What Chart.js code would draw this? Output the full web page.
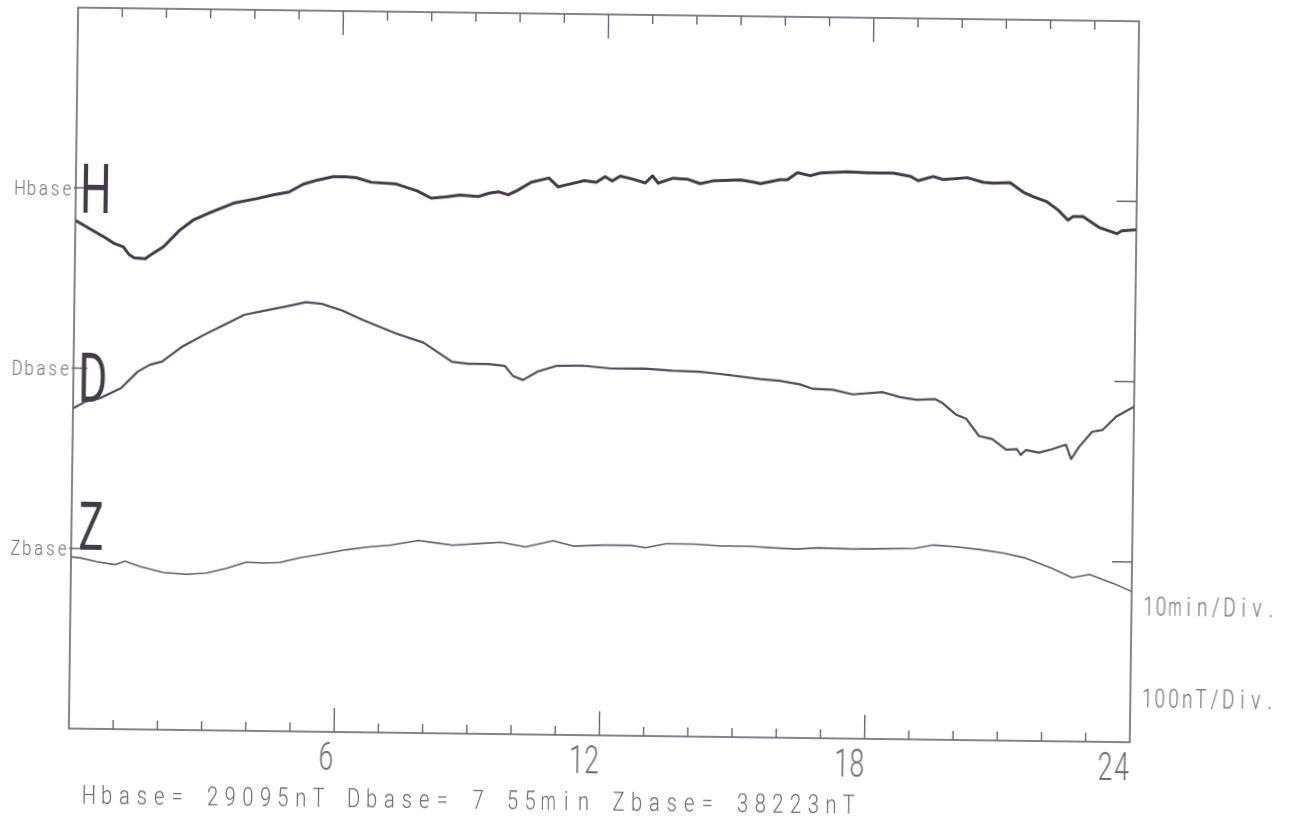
<!DOCTYPE html>
<html>
<head>
<meta charset="utf-8">
<title>Magnetogram H D Z</title>
<script src="https://cdn.jsdelivr.net/npm/chart.js@4.4.1/dist/chart.umd.min.js"></script>
<style>
  html, body { margin: 0; padding: 0; background: #fff; overflow: hidden; }
  /* the recording sheet sits slightly skewed */
  #magChart { display: block; transform: rotate(0.74deg); }
</style>
</head>
<body>
<canvas id="magChart" width="1298" height="821"></canvas>
<script>
// Hour ticks along the top and bottom edges, labelled every 6 h
const hourTicks = [1, 2, 3, 4, 5, 6, 7, 8, 9, 10, 11, 12, 13, 14, 15, 16, 17, 18, 19, 20, 21, 22, 23];
const hourLabels = [6, 12, 18, 24];

// H component, deviation from Hbase in nT
const hHours = [0, 0.69, 0.87, 1.09, 1.23, 1.34, 1.59, 1.75, 2.0, 2.36, 2.68, 3.04, 3.6, 4.08, 4.49, 4.82,
  5.14, 5.46, 5.82, 6.11, 6.34, 6.68, 7.25, 7.72, 8.04, 8.38, 8.69, 9.1, 9.35, 9.57, 9.78, 9.98, 10.3, 10.7,
  10.91, 11.1, 11.5, 11.77, 11.97, 12.13, 12.31, 12.6, 12.88, 13.04, 13.17, 13.51, 13.83, 14.12, 14.41,
  15.03, 15.32, 15.48, 15.93, 16.09, 16.32, 16.61, 16.84, 17.45, 17.9, 18.49, 18.87, 19.05, 19.39, 19.62,
  20.16, 20.52, 20.75, 21.13, 21.43, 21.65, 21.97, 22.22, 22.45, 22.56, 22.79, 23.17, 23.56, 23.67, 24];
const hNt = [-45, -69, -76, -81, -92, -96, -97, -90, -80, -57, -42, -32, -18, -12, -6, -2,
  9, 15, 20, 20, 19, 13, 11, 2, -8, -6, -3, -5, 0, 2, -2, 4, 16, 22,
  10, 13, 19, 17, 25, 19, 26, 22, 17, 27, 17, 24, 23, 17, 21,
  23, 20, 18, 24, 24, 34, 30, 34, 36, 35, 35, 31, 25, 31, 27,
  30, 24, 23, 24, 11, 5, -2, -13, -27, -22, -22, -37, -45, -41, -39];

// D component, deviation from Dbase in minutes of arc
const dHours = [0, 0.29, 0.62, 1.08, 1.45, 1.73, 2.0, 2.46, 2.93, 3.39, 3.85, 4.31, 4.77, 5.24, 5.6, 6.06,
  6.52, 7.27, 7.91, 8.56, 8.93, 9.39, 9.76, 9.94, 10.17, 10.5, 10.91, 11.51, 12.16, 12.9, 13.54, 14.17,
  14.62, 15.53, 15.98, 16.43, 16.73, 17.18, 17.63, 18.31, 18.7, 19.08, 19.49, 19.67, 19.98, 20.21, 20.5,
  20.8, 21.12, 21.36, 21.45, 21.57, 21.86, 22.16, 22.47, 22.59, 22.77, 23.06, 23.29, 23.6, 24];
const dMin = [-5.6, -4.6, -4.1, -2.7, -0.4, 0.6, 1.05, 3.2, 4.8, 6.25, 7.7, 8.3, 8.9, 9.55, 9.35, 8.45,
  7.2, 5.4, 4.15, 1.55, 1.3, 1.3, 1.05, -0.3, -0.85, 0.35, 1.15, 1.25, 0.9, 0.95, 0.7, 0.6,
  0.35, -0.3, -0.5, -0.95, -1.55, -1.65, -2.25, -1.9, -2.55, -2.9, -2.75, -3.3, -4.9, -5.45, -7.8,
  -8.2, -9.65, -9.55, -10.35, -9.65, -10.0, -9.5, -8.85, -10.85, -9.1, -7.0, -6.75, -4.85, -3.45];

// Z component, deviation from Zbase in nT
const zHours = [0, 0.2, 0.58, 1.0, 1.22, 1.56, 2.09, 2.62, 3.07, 3.52, 3.97, 4.35, 4.72, 5.18, 5.7, 6.23,
  6.69, 7.21, 7.85, 8.24, 8.63, 9.25, 9.72, 10.27, 10.9, 11.36, 12.06, 12.68, 12.99, 13.46, 14.08, 14.71,
  15.33, 15.95, 16.42, 16.89, 17.66, 18.44, 19.07, 19.5, 20.0, 20.62, 21.09, 21.56, 22.18, 22.65, 23.04,
  23.58, 24];
const zNt = [-12, -13, -18, -22, -17, -24, -32, -34, -32, -25, -16, -17, -16, -9, -3, 3,
  7, 10, 17, 14, 11, 14, 16, 10, 19, 12, 14, 14, 11, 17, 17, 15,
  15, 13, 12, 14, 13, 14, 15, 20, 18, 14, 10, 4, -10, -23, -18,
  -30, -41];

// Each trace rides on its own base line; y axis counts divisions
const NT_PER_DIV = 100;
const MIN_PER_DIV = 10;
const hBaseDiv = 7.5, dBaseDiv = 5, zBaseDiv = 2.5;

const footer = 'Hbase= 29095nT Dbase= 7 55min Zbase= 38223nT';

const INK = '#433b48';
const TEXT = '#6d6873';
const FRAME = '#6a6470';

function toPoints(hours, values, base, perDiv) {
  return hours.map((h, i) => ({ x: h, y: base + values[i] / perDiv }));
}

// plotter-style lettering: every character sits in a fixed-width cell
function plotterText(ctx, text, x, y, o) {
  ctx.font = `${o.weight || 300} ${o.size}px Roboto, "DejaVu Sans", sans-serif`;
  ctx.fillStyle = o.color || TEXT;
  ctx.textAlign = 'left';
  ctx.textBaseline = 'alphabetic';
  const n = text.length;
  for (let i = 0; i < n; i++) {
    const ch = text[i];
    if (ch === ' ') continue;
    const cx = o.align === 'right' ? x - (n - i - 0.5) * o.pitch : x + (i + 0.5) * o.pitch;
    const m = ctx.measureText(ch);
    const ink = m.actualBoundingBoxLeft + m.actualBoundingBoxRight;
    const mid = (m.actualBoundingBoxRight - m.actualBoundingBoxLeft) / 2;
    const s = Math.min(o.sx, o.maxW / ink);
    ctx.save();
    ctx.translate(cx, y);
    ctx.scale(s, 1);
    ctx.fillText(ch, -mid, 0);
    ctx.restore();
  }
}

const sheetPlugin = {
  id: 'sheet',
  beforeDraw(chart) {
    const ctx = chart.ctx;
    ctx.save();
    ctx.fillStyle = '#fff';
    ctx.fillRect(0, 0, chart.width, chart.height);
    ctx.restore();
  },
  afterDraw(chart) {
    const ctx = chart.ctx;
    const a = chart.chartArea;
    const xs = chart.scales.x, ys = chart.scales.y;
    ctx.save();

    // frame
    ctx.strokeStyle = FRAME;
    ctx.lineWidth = 1.6;
    ctx.strokeRect(a.left, a.top, a.right - a.left, a.bottom - a.top);

    // hour ticks, pointing inwards
    ctx.lineWidth = 1.4;
    ctx.beginPath();
    hourTicks.forEach(h => {
      const px = xs.getPixelForValue(h);
      const len = h % 6 === 0 ? 24 : 9;
      ctx.moveTo(px, a.top); ctx.lineTo(px, a.top + len);
      ctx.moveTo(px, a.bottom); ctx.lineTo(px, a.bottom - len);
    });

    // base line markers on both sides
    [hBaseDiv, dBaseDiv, zBaseDiv].forEach((b, i) => {
      const py = ys.getPixelForValue(b);
      ctx.moveTo(a.left - 2, py); ctx.lineTo(a.left + (i === 1 ? 14 : 10), py);
      ctx.moveTo(a.right - 20, py); ctx.lineTo(a.right, py);
    });
    ctx.stroke();

    // hour labels, right-aligned on their tick
    hourLabels.forEach(h => {
      plotterText(ctx, String(h), xs.getPixelForValue(h) + 1, a.bottom + 38,
        { size: 38, pitch: 17, sx: 0.7, maxW: 14, align: 'right' });
    });

    // base labels left of the frame
    const names = ['Hbase', 'Dbase', 'Zbase'];
    [hBaseDiv, dBaseDiv, zBaseDiv].forEach((b, i) => {
      const py = ys.getPixelForValue(b);
      plotterText(ctx, names[i], a.left - 3, py + 7.5,
        { size: 21, pitch: 11.8, sx: 0.8, maxW: 9.5, align: 'right' });
    });

    // component letters
    const hy = ys.getPixelForValue(hBaseDiv);
    const dy = ys.getPixelForValue(dBaseDiv);
    const zy = ys.getPixelForValue(zBaseDiv);
    const big = { size: 69, pitch: 25, sx: 10, weight: 400, color: INK };
    plotterText(ctx, 'H', a.left + 7.5, hy + 24.3, Object.assign({}, big, { maxW: 25 }));
    plotterText(ctx, 'D', a.left + 7.5, dy + 33.5, Object.assign({}, big, { maxW: 24 }));
    plotterText(ctx, 'Z', a.left + 8, zy + 1, Object.assign({}, big, { size: 66, pitch: 23, maxW: 22 }));

    // scale notes on the right
    plotterText(ctx, '10min/Div.', a.right + 9, a.bottom - 127.4, { size: 25.3, pitch: 13.7, sx: 0.75, maxW: 12 });
    plotterText(ctx, '100nT/Div.', a.right + 9, a.bottom - 35.4, { size: 25.3, pitch: 13.7, sx: 0.75, maxW: 12 });

    // base values under the time axis
    plotterText(ctx, footer, 85, a.bottom + 75, { size: 25.3, pitch: 17.67, sx: 0.8, maxW: 13.5 });

    ctx.restore();
  }
};

const ctx = document.getElementById('magChart').getContext('2d');

new Chart(ctx, {
  type: 'line',
  data: {
    datasets: [
      {
        label: 'H',
        data: toPoints(hHours, hNt, hBaseDiv, NT_PER_DIV),
        borderColor: INK,
        borderWidth: 3
      },
      {
        label: 'D',
        data: toPoints(dHours, dMin, dBaseDiv, MIN_PER_DIV),
        borderColor: '#554d5b',
        borderWidth: 2.2
      },
      {
        label: 'Z',
        data: toPoints(zHours, zNt, zBaseDiv, NT_PER_DIV),
        borderColor: '#665e6c',
        borderWidth: 1.6
      }
    ]
  },
  options: {
    responsive: false,
    animation: false,
    devicePixelRatio: 1,
    layout: {
      padding: { left: 73, right: 164, top: 15, bottom: 85 }
    },
    elements: {
      point: { radius: 0 },
      line: { tension: 0, borderJoinStyle: 'round', borderCapStyle: 'round' }
    },
    plugins: {
      legend: { display: false },
      tooltip: { enabled: false }
    },
    scales: {
      x: { type: 'linear', min: 0, max: 24, display: false },
      y: { type: 'linear', min: 0, max: 10, display: false }
    }
  },
  plugins: [sheetPlugin]
});
</script>
</body>
</html>
